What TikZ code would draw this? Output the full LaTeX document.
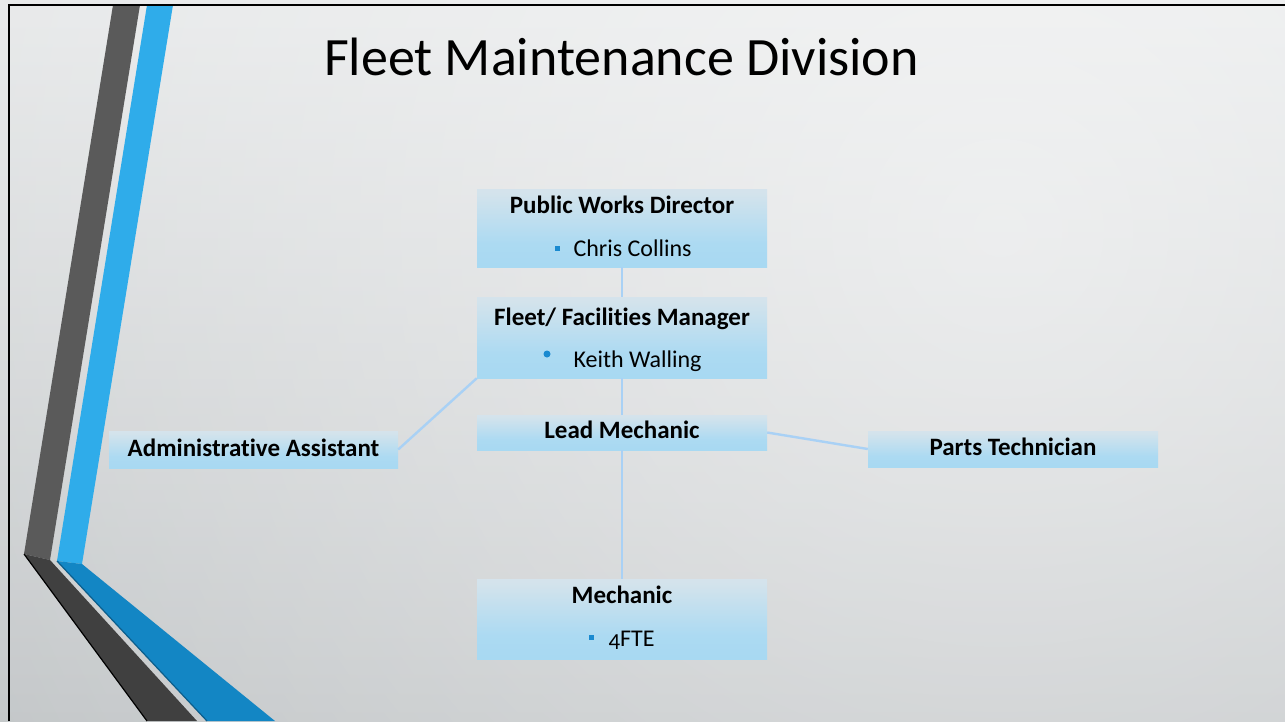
\documentclass[tikz,border=0pt]{standalone}
\usepackage{fontspec}
\setmainfont{Carlito}[Ligatures=NoCommon]
\usetikzlibrary{fadings}
\tikzfading[name=myglow, inner color=transparent!0, outer color=transparent!100]
\definecolor{bgtop}{HTML}{E4E6E7}
\definecolor{bgbot}{HTML}{BBBFC1}
\definecolor{darkA}{HTML}{5A5A5A}
\definecolor{darkB}{HTML}{404040}
\definecolor{blueA}{HTML}{2FACEA}
\definecolor{blueB}{HTML}{1386C4}
\definecolor{blueEdge}{HTML}{0B5E8C}
\definecolor{bxA}{HTML}{C8E9F9}
\definecolor{bxB}{HTML}{A3D7F3}
\definecolor{bxC}{HTML}{ACDAF2}
\definecolor{bxE}{HTML}{D3E3EC}
\definecolor{bxD}{HTML}{E4E7E9}
\definecolor{connc}{HTML}{A9D1F5}
\definecolor{bulc}{HTML}{1A8AD0}
\pgfdeclareverticalshading{boxshade}{100bp}{color(0bp)=(bxA); color(4bp)=(bxA); color(9bp)=(bxB); color(40bp)=(bxC); color(72bp)=(bxE); color(100bp)=(bxD)}
\tikzset{
  obox/.style={rectangle, inner sep=0pt, draw=none, shading=boxshade},
  conn/.style={draw=connc, line width=2.4pt},
  head/.style={anchor=base, font=\fontsize{25}{27}\selectfont\bfseries, text=black},
  item/.style={anchor=base west, font=\fontsize{24}{26}\selectfont, text=black},
  sqbul/.style={rectangle, fill=bulc, minimum size=5pt, inner sep=0pt},
  rdbul/.style={circle, fill=bulc, minimum size=7pt, inner sep=0pt}
}
\begin{document}
\begin{tikzpicture}[x=1pt,y=-1pt]
\useasboundingbox (0,0) rectangle (1285,721);
% background
\shade[top color=bgtop, bottom color=bgbot] (0,0) rectangle (1285,721);
\begin{scope}
\clip (0,0) rectangle (1285,721);
\fill[white, path fading=myglow, opacity=0.55] (1000,230) circle (1500);
\end{scope}
% decorative bars
\fill[darkA] (113,5) -- (140,5) -- (50,560) -- (24,554) -- cycle;
\fill[darkB] (24,554) -- (50,560) -- (197,721) -- (147,721) -- cycle;
\draw[black, line width=1.2pt] (24,554) -- (147,721);
\fill[blueA] (147,5) -- (173,5) -- (82,564) -- (57,561) -- cycle;
\fill[blueB] (57,561) -- (82,564) -- (275,721) -- (207,721) -- cycle;
\draw[blueEdge, line width=1.2pt] (57,561) -- (207,721);
% frame
\draw[black, line width=2.5pt] (9,721) -- (9,5) -- (1285,5);
% title
\node[anchor=base, font=\fontsize{54}{60}\selectfont, text=black] (title) at (621.5,75) {Fleet Maintenance Division};
% boxes
\node[obox, minimum width=290pt, minimum height=78pt] (pwd) at (622,228) {};
\node[obox, minimum width=290pt, minimum height=81pt] (ffm) at (622,337.5) {};
\node[obox, minimum width=290pt, minimum height=35pt] (lead) at (622,432.5) {};
\node[obox, minimum width=289pt, minimum height=37pt] (admin) at (253.5,449.5) {};
\node[obox, minimum width=290pt, minimum height=36pt] (parts) at (1013,449) {};
\node[obox, minimum width=290pt, minimum height=80pt] (mech) at (622,619) {};
% connectors
\draw[conn] (pwd.south) -- (ffm.north);
\draw[conn] (ffm.south) -- (lead.north);
\draw[conn] (lead.south) -- (mech.north);
\draw[conn] (ffm.south west) -- (admin.east);
\draw[conn] (lead.east) -- (parts.west);
% texts
\node[head] (pwdt) at (622,213) {Public Works Director};
\node[sqbul] (pwdb) at (557,248) {};
\node[item] (pwdn) at (570,256) {Chris Collins};
\node[head] (ffmt) at (622,325) {Fleet/ Facilities Manager};
\node[rdbul] (ffmb) at (547,354) {};
\node[item] (ffmn) at (570,367) {Keith Walling};
\node[head] (leadt) at (622,438) {Lead Mechanic};
\node[head] (admint) at (253.5,456) {Administrative Assistant};
\node[head] (partst) at (1013,455) {Parts Technician};
\node[head] (mecht) at (622,603) {Mechanic};
\node[sqbul] (mechb) at (591,637) {};
\node[item] (mechn) at (605,646) {\raisebox{-3.5pt}{\fontsize{23}{24}\selectfont 4}FTE};
\end{tikzpicture}
\end{document}
